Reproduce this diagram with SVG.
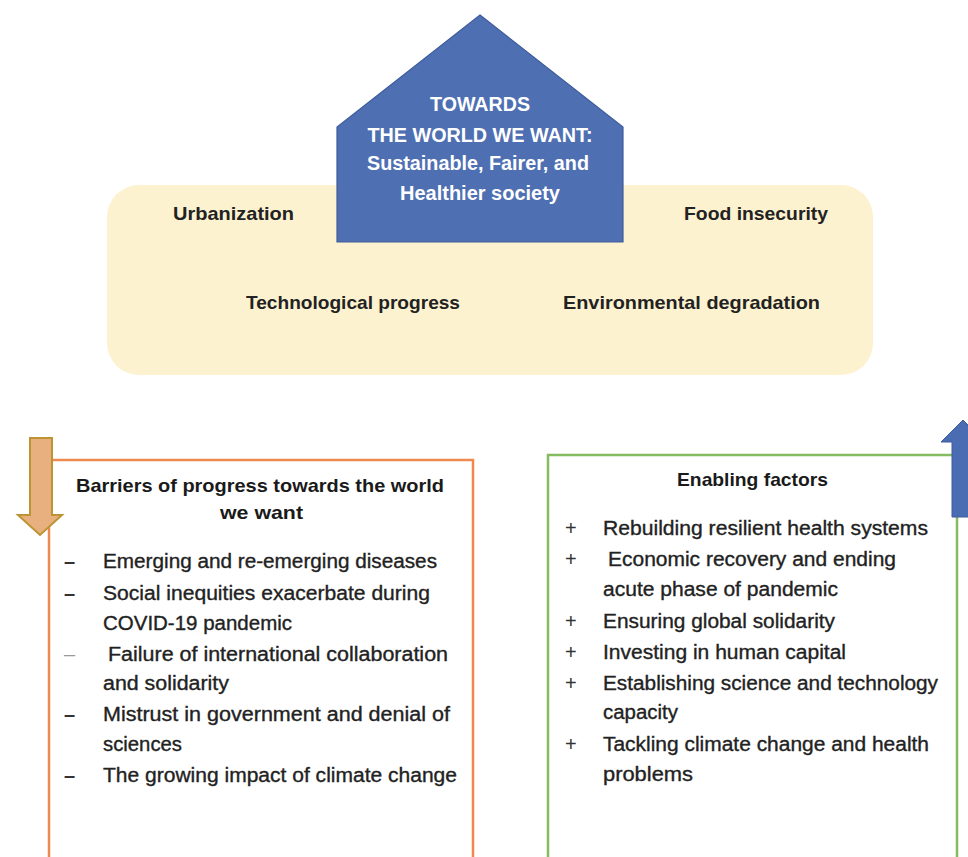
<svg xmlns="http://www.w3.org/2000/svg" width="968" height="857" viewBox="0 0 968 857">
<style>
  .bg { fill: #ffffff; }
  .band { fill: #FDF2D0; }
  .house { fill: #4F6FB3; stroke: #3E5C9C; stroke-width: 1.2; }
  .ht { font-family: "Liberation Sans", Arial, sans-serif; font-weight: bold; font-size: 19.5px; fill: #ffffff; text-anchor: middle; }
  .yt { font-family: "Liberation Sans", Arial, sans-serif; font-weight: bold; font-size: 19px; fill: #222222; }
  .title { font-family: "Liberation Sans", Arial, sans-serif; font-weight: bold; font-size: 19px; fill: #1a1a1a; }
  .body { font-family: "Liberation Sans", Arial, sans-serif; font-size: 20px; fill: #222222; stroke: #222222; stroke-width: 0.35; }
  .bul { font-family: "Liberation Sans", Arial, sans-serif; font-weight: bold; font-size: 20px; fill: #333333; }
  .obox { fill: #ffffff; stroke: #EE8A4E; stroke-width: 2.5; }
  .gbox { fill: #ffffff; stroke: #85BC5F; stroke-width: 2.5; }
  .oarrow { fill: #E9B07F; stroke: #BC9433; stroke-width: 2; }
  .barrow { fill: #4A6CB3; stroke: #3E5C9C; stroke-width: 1; }
</style>
<rect class="bg" x="0" y="0" width="968" height="857"/>

<g id="context-band">
  <rect class="band" x="107" y="185" width="766" height="190" rx="32" ry="32"/>
  <text class="yt" x="173" y="220" textLength="121" lengthAdjust="spacingAndGlyphs">Urbanization</text>
  <text class="yt" x="684" y="220" textLength="144" lengthAdjust="spacingAndGlyphs">Food insecurity</text>
  <text class="yt" x="246" y="309" textLength="214" lengthAdjust="spacingAndGlyphs">Technological progress</text>
  <text class="yt" x="563" y="309" textLength="257" lengthAdjust="spacingAndGlyphs">Environmental degradation</text>
</g>

<g id="goal-house">
  <polygon class="house" points="480,15 623,127 623,242 337,242 337,127"/>
  <text class="ht" x="480" y="111" textLength="100" lengthAdjust="spacingAndGlyphs">TOWARDS</text>
  <text class="ht" x="480" y="142" textLength="225" lengthAdjust="spacingAndGlyphs">THE WORLD WE WANT:</text>
  <text class="ht" x="478" y="170" textLength="222" lengthAdjust="spacingAndGlyphs">Sustainable, Fairer, and</text>
  <text class="ht" x="480" y="200" textLength="160" lengthAdjust="spacingAndGlyphs">Healthier society</text>
</g>

<g id="barriers">
  <rect class="obox" x="49" y="460" width="424" height="420"/>
  <text class="title" x="76" y="492" textLength="368" lengthAdjust="spacingAndGlyphs">Barriers of progress towards the world</text>
  <text class="title" x="220" y="519" textLength="83" lengthAdjust="spacingAndGlyphs">we want</text>
  <text class="bul" x="64" y="568">–</text>
  <text class="body" x="103" y="568" textLength="334" lengthAdjust="spacingAndGlyphs">Emerging and re-emerging diseases</text>
  <text class="bul" x="64" y="600">–</text>
  <text class="body" x="103" y="600" textLength="327" lengthAdjust="spacingAndGlyphs">Social inequities exacerbate during</text>
  <text class="body" x="103" y="630" textLength="189" lengthAdjust="spacingAndGlyphs">COVID-19 pandemic</text>
  <text class="bul" x="64" y="661" style="fill:#999999;font-weight:normal">–</text>
  <text class="body" x="108" y="661" textLength="340" lengthAdjust="spacingAndGlyphs">Failure of international collaboration</text>
  <text class="body" x="103" y="690" textLength="126" lengthAdjust="spacingAndGlyphs">and solidarity</text>
  <text class="bul" x="64" y="721">–</text>
  <text class="body" x="103" y="721" textLength="347" lengthAdjust="spacingAndGlyphs">Mistrust in government and denial of</text>
  <text class="body" x="103" y="751" textLength="79" lengthAdjust="spacingAndGlyphs">sciences</text>
  <text class="bul" x="64" y="782">–</text>
  <text class="body" x="103" y="782" textLength="354" lengthAdjust="spacingAndGlyphs">The growing impact of climate change</text>
</g>

<g id="enablers">
  <rect class="gbox" x="548" y="455" width="409" height="425"/>
  <text class="title" x="677" y="486" textLength="151" lengthAdjust="spacingAndGlyphs">Enabling factors</text>
  <text class="bul" x="565" y="535" style="font-weight:normal">+</text>
  <text class="body" x="603" y="535" textLength="325" lengthAdjust="spacingAndGlyphs">Rebuilding resilient health systems</text>
  <text class="bul" x="565" y="566" style="font-weight:normal">+</text>
  <text class="body" x="608" y="566" textLength="288" lengthAdjust="spacingAndGlyphs">Economic recovery and ending</text>
  <text class="body" x="603" y="596" textLength="235" lengthAdjust="spacingAndGlyphs">acute phase of pandemic</text>
  <text class="bul" x="565" y="628" style="font-weight:normal">+</text>
  <text class="body" x="603" y="628" textLength="232" lengthAdjust="spacingAndGlyphs">Ensuring global solidarity</text>
  <text class="bul" x="565" y="659" style="font-weight:normal">+</text>
  <text class="body" x="603" y="659" textLength="243" lengthAdjust="spacingAndGlyphs">Investing in human capital</text>
  <text class="bul" x="565" y="690" style="font-weight:normal">+</text>
  <text class="body" x="603" y="690" textLength="335" lengthAdjust="spacingAndGlyphs">Establishing science and technology</text>
  <text class="body" x="603" y="719" textLength="75" lengthAdjust="spacingAndGlyphs">capacity</text>
  <text class="bul" x="565" y="751" style="font-weight:normal">+</text>
  <text class="body" x="603" y="751" textLength="326" lengthAdjust="spacingAndGlyphs">Tackling climate change and health</text>
  <text class="body" x="603" y="781" textLength="90" lengthAdjust="spacingAndGlyphs">problems</text>
</g>

<g id="connectors">
  <polygon class="oarrow" points="30,438 52,438 52,515 62,515 40,535 18,515 30,515"/>
  <polygon class="barrow" points="963,420 985,442 974,442 974,517 952,517 952,442 941,442"/>
</g>
</svg>
